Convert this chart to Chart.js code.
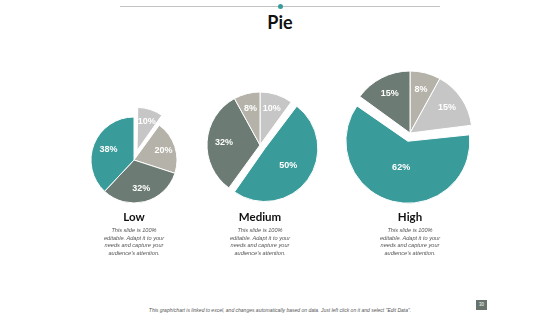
<!DOCTYPE html>
<html><head><meta charset="utf-8">
<script src="https://cdn.jsdelivr.net/npm/chart.js@4"></script>
<style>
html,body{margin:0;padding:0;background:#fff;}
#wrap{position:relative;width:560px;height:315px;overflow:hidden;font-family:Lato,'Liberation Sans',sans-serif;}
.abs{position:absolute;}
.rule{left:120px;top:6px;width:320px;height:1px;background:#c3c3c3;}
.dot{left:277.5px;top:3.5px;width:5px;height:5px;border-radius:50%;background:#3a9b9b;}
.title{left:0;width:560px;top:11px;line-height:22px;text-align:center;font-weight:700;font-size:18px;color:#111;}
.cat{width:140px;text-align:center;font-weight:700;font-size:11.5px;line-height:14px;color:#111;top:210px;}
.desc{width:140px;text-align:center;font-family:'Liberation Sans',Arial,sans-serif;font-style:italic;font-size:5.6px;line-height:7.4px;color:#555;top:227.3px;}
.foot{left:0;width:560px;text-align:center;top:306.5px;font-family:'Liberation Sans',Arial,sans-serif;font-style:italic;font-size:5px;line-height:7px;color:#555;}
.page{left:476px;top:300px;width:11px;height:10px;background:#66746c;color:#fff;font-family:'Liberation Sans',Arial,sans-serif;font-size:4.5px;line-height:10px;text-align:center;}
canvas{position:absolute;}
</style>
</head><body>
<div id="wrap">
  <div class="abs rule"></div>
  <div class="abs dot"></div>
  <div class="abs title" id="title"></div>
  <canvas id="c0" width="120" height="120" style="left:74px;top:100px;"></canvas>
  <canvas id="c1" width="140" height="140" style="left:190px;top:75px;"></canvas>
  <canvas id="c2" width="160" height="160" style="left:330px;top:53px;"></canvas>
  <div class="abs cat" id="cat0" style="left:64px;"></div>
  <div class="abs cat" id="cat1" style="left:190px;"></div>
  <div class="abs cat" id="cat2" style="left:340px;"></div>
  <div class="abs desc" id="d0" style="left:64px;"></div>
  <div class="abs desc" id="d1" style="left:190px;"></div>
  <div class="abs desc" id="d2" style="left:340px;"></div>
  <div class="abs foot" id="foot"></div>
  <div class="abs page" id="page"></div>
</div>
<script>
// ---- data ----
const titleText = 'Pie';
const categories = ['Low', 'Medium', 'High'];
const lowValues = [10, 20, 32, 38];
const mediumValues = [10, 50, 32, 8];
const highValues = [8, 15, 62, 15];
const descriptionLines = ['This slide is 100%', 'editable. Adapt it to your', 'needs and capture your', "audience's attention."];
const footerText = 'This graph/chart is linked to excel, and changes automatically based on data. Just left click on it and select "Edit Data".';
const pageNumber = '30';

// ---- style ----
const TEAL = '#3a9b9b', DARK = '#6c7b73', BEIGE = '#b5b3a9', LIGHT = '#c6c6c6';
const pieStyles = [
  {colors: [LIGHT, BEIGE, DARK, TEAL], explodeIndex: 0, explode: 10, radius: 43},
  {colors: [LIGHT, TEAL, DARK, BEIGE], explodeIndex: 1, explode: 6, radius: 53},
  {colors: [BEIGE, LIGHT, TEAL, DARK], explodeIndex: 2, explode: 8.5, radius: 62}
];

document.getElementById('title').textContent = titleText;
categories.forEach((c, i) => {
  document.getElementById('cat' + i).textContent = c;
  document.getElementById('d' + i).innerHTML = descriptionLines.map(l => l.replace(/&/g,'&amp;').replace(/</g,'&lt;')).join('<br>');
});
document.getElementById('foot').textContent = footerText;
document.getElementById('page').textContent = pageNumber;

// keep exploded slices at the same radius (Chart.js otherwise enlarges them)
const fixExplode = {
  id: 'fixExplode',
  beforeDatasetDraw(chart, args) {
    args.meta.data.forEach(arc => {
      const off = (arc.options.offset || 0) / 4;
      if (!off) return;
      const fix = 1 - Math.sin(Math.min(Math.PI, arc.circumference || 0));
      arc._origR = arc.outerRadius;
      arc.outerRadius = arc._origR - off * fix;
    });
  },
  afterDatasetDraw(chart, args) {
    args.meta.data.forEach(arc => {
      if (arc._origR !== undefined) { arc.outerRadius = arc._origR; delete arc._origR; }
    });
  }
};

const pctLabels = {
  id: 'pctLabels',
  afterDatasetsDraw(chart) {
    const ctx = chart.ctx;
    const meta = chart.getDatasetMeta(0);
    const vals = chart.data.datasets[0].data;
    ctx.save();
    ctx.fillStyle = '#ffffff';
    ctx.font = 'bold 9px "Liberation Sans", Arial, sans-serif';
    ctx.textAlign = 'center';
    ctx.textBaseline = 'middle';
    meta.data.forEach((arc, i) => {
      const mid = (arc.startAngle + arc.endAngle) / 2;
      const half = (arc.endAngle - arc.startAngle) / 2;
      const d = (arc.options.offset || 0) / 4;
      let f = 2 * Math.sin(half) / (3 * half) + 0.12;
      f = Math.min(f, 0.72);
      const rr = d + f * arc.outerRadius;
      ctx.fillText(vals[i] + '%', arc.x + Math.cos(mid) * rr, arc.y + Math.sin(mid) * rr);
    });
    ctx.restore();
  }
};

const allValues = [lowValues, mediumValues, highValues];
allValues.forEach((values, k) => {
  const st = pieStyles[k];
  new Chart(document.getElementById('c' + k), {
    type: 'pie',
    data: {
      labels: values.map((v, i) => categories[k] + ' ' + (i + 1)),
      datasets: [{
        data: values,
        backgroundColor: st.colors,
        borderColor: '#ffffff',
        borderWidth: 1,
        radius: st.radius,
        offset: values.map((v, i) => i === st.explodeIndex ? st.explode * 4 : 0)
      }]
    },
    options: {
      responsive: false,
      animation: false,
      events: [],
      layout: {padding: 0},
      plugins: {legend: {display: false}, tooltip: {enabled: false}}
    },
    plugins: [fixExplode, pctLabels]
  });
});
</script>
</body></html>
